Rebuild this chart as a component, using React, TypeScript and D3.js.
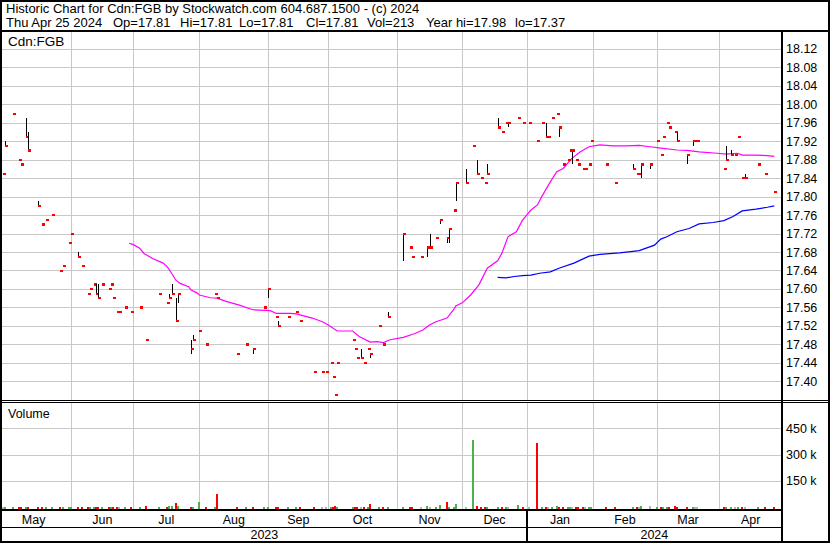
import React from 'react';
import * as d3 from 'd3';

// [date, open, high, low, close, volume]
type Bar = [string, number, number, number, number, number];

const bars: Bar[] = [
  ['2023-04-27', 17.85, 17.85, 17.85, 17.85, 3000],
  ['2023-04-28', 17.92, 17.92, 17.91, 17.91, 2000],
  ['2023-05-02', 17.98, 17.98, 17.98, 17.98, 3000],
  ['2023-05-05', 17.88, 17.88, 17.88, 17.88, 2000],
  ['2023-05-06', 17.87, 17.87, 17.87, 17.87, 3000],
  ['2023-05-09', 17.97, 17.97, 17.93, 17.93, 3000],
  ['2023-05-10', 17.94, 17.94, 17.90, 17.90, 2000],
  ['2023-05-15', 17.79, 17.79, 17.78, 17.78, 3000],
  ['2023-05-17', 17.74, 17.74, 17.74, 17.74, 3000],
  ['2023-05-19', 17.75, 17.75, 17.75, 17.75, 2000],
  ['2023-05-22', 17.76, 17.76, 17.76, 17.76, 3000],
  ['2023-05-26', 17.64, 17.64, 17.64, 17.64, 3000],
  ['2023-05-28', 17.65, 17.65, 17.65, 17.65, 2000],
  ['2023-05-31', 17.70, 17.70, 17.70, 17.70, 3000],
  ['2023-06-01', 17.72, 17.72, 17.72, 17.72, 3000],
  ['2023-06-04', 17.68, 17.68, 17.67, 17.67, 3000],
  ['2023-06-06', 17.65, 17.65, 17.65, 17.65, 3000],
  ['2023-06-09', 17.59, 17.59, 17.59, 17.59, 3000],
  ['2023-06-10', 17.60, 17.60, 17.60, 17.60, 2000],
  ['2023-06-12', 17.61, 17.61, 17.61, 17.61, 3000],
  ['2023-06-13', 17.61, 17.61, 17.59, 17.59, 3000],
  ['2023-06-14', 17.61, 17.61, 17.58, 17.58, 3000],
  ['2023-06-16', 17.61, 17.61, 17.61, 17.61, 3000],
  ['2023-06-19', 17.60, 17.60, 17.60, 17.60, 2000],
  ['2023-06-20', 17.61, 17.61, 17.61, 17.61, 3000],
  ['2023-06-21', 17.58, 17.58, 17.58, 17.58, 3000],
  ['2023-06-23', 17.55, 17.55, 17.55, 17.55, 3000],
  ['2023-06-24', 17.55, 17.55, 17.55, 17.55, 2000],
  ['2023-06-27', 17.56, 17.56, 17.56, 17.56, 3000],
  ['2023-06-30', 17.55, 17.55, 17.55, 17.55, 3000],
  ['2023-07-04', 17.56, 17.56, 17.56, 17.56, 2000],
  ['2023-07-07', 17.49, 17.49, 17.49, 17.49, 5000],
  ['2023-07-13', 17.59, 17.59, 17.59, 17.59, 2000],
  ['2023-07-17', 17.57, 17.57, 17.57, 17.57, 3000],
  ['2023-07-18', 17.59, 17.59, 17.58, 17.58, 6000],
  ['2023-07-19', 17.61, 17.61, 17.59, 17.59, 9000],
  ['2023-07-21', 17.58, 17.58, 17.53, 17.53, 26000],
  ['2023-07-22', 17.57, 17.59, 17.57, 17.59, 9000],
  ['2023-07-28', 17.49, 17.49, 17.46, 17.47, 3000],
  ['2023-07-29', 17.50, 17.50, 17.49, 17.49, 3000],
  ['2023-08-01', 17.51, 17.51, 17.51, 17.51, 31000],
  ['2023-08-04', 17.48, 17.48, 17.48, 17.48, 3000],
  ['2023-08-08', 17.59, 17.59, 17.59, 17.59, 3000],
  ['2023-08-09', 17.58, 17.58, 17.58, 17.58, 77000],
  ['2023-08-18', 17.46, 17.46, 17.46, 17.46, 3000],
  ['2023-08-22', 17.48, 17.48, 17.48, 17.48, 3000],
  ['2023-08-25', 17.46, 17.47, 17.46, 17.47, 3000],
  ['2023-08-30', 17.56, 17.56, 17.56, 17.56, 3000],
  ['2023-09-01', 17.58, 17.60, 17.58, 17.60, 3000],
  ['2023-09-05', 17.54, 17.54, 17.54, 17.54, 3000],
  ['2023-09-06', 17.53, 17.53, 17.52, 17.52, 3000],
  ['2023-09-11', 17.54, 17.54, 17.54, 17.54, 2000],
  ['2023-09-15', 17.55, 17.55, 17.55, 17.55, 3000],
  ['2023-09-17', 17.53, 17.53, 17.53, 17.53, 3000],
  ['2023-09-24', 17.42, 17.42, 17.42, 17.42, 3000],
  ['2023-09-28', 17.42, 17.42, 17.42, 17.42, 3000],
  ['2023-09-30', 17.42, 17.42, 17.42, 17.42, 3000],
  ['2023-10-02', 17.44, 17.44, 17.44, 17.44, 3000],
  ['2023-10-03', 17.41, 17.41, 17.41, 17.41, 3000],
  ['2023-10-04', 17.37, 17.37, 17.37, 17.37, 8000],
  ['2023-10-05', 17.44, 17.44, 17.44, 17.44, 3000],
  ['2023-10-12', 17.49, 17.49, 17.49, 17.49, 3000],
  ['2023-10-13', 17.47, 17.47, 17.47, 17.47, 3000],
  ['2023-10-14', 17.45, 17.45, 17.45, 17.45, 3000],
  ['2023-10-16', 17.47, 17.47, 17.45, 17.45, 3000],
  ['2023-10-17', 17.44, 17.44, 17.44, 17.44, 3000],
  ['2023-10-19', 17.47, 17.47, 17.47, 17.47, 3000],
  ['2023-10-20', 17.45, 17.46, 17.45, 17.46, 20000],
  ['2023-10-24', 17.52, 17.52, 17.52, 17.52, 3000],
  ['2023-10-26', 17.48, 17.48, 17.48, 17.48, 3000],
  ['2023-10-28', 17.55, 17.55, 17.54, 17.54, 3000],
  ['2023-11-04', 17.66, 17.72, 17.66, 17.72, 3000],
  ['2023-11-07', 17.69, 17.69, 17.69, 17.69, 3000],
  ['2023-11-08', 17.67, 17.67, 17.67, 17.67, 3000],
  ['2023-11-12', 17.67, 17.67, 17.67, 17.67, 3000],
  ['2023-11-15', 17.67, 17.69, 17.67, 17.69, 5000],
  ['2023-11-16', 17.72, 17.72, 17.69, 17.69, 3000],
  ['2023-11-19', 17.71, 17.71, 17.71, 17.71, 3000],
  ['2023-11-21', 17.74, 17.75, 17.74, 17.75, 14000],
  ['2023-11-24', 17.70, 17.71, 17.70, 17.71, 31000],
  ['2023-11-25', 17.70, 17.73, 17.70, 17.73, 3000],
  ['2023-11-27', 17.77, 17.77, 17.77, 17.77, 3000],
  ['2023-11-28', 17.79, 17.83, 17.79, 17.83, 20000],
  ['2023-12-03', 17.86, 17.86, 17.83, 17.83, 3000],
  ['2023-12-06', 17.91, 17.91, 17.91, 17.91, 381000],
  ['2023-12-08', 17.88, 17.88, 17.85, 17.85, 5000],
  ['2023-12-10', 17.84, 17.84, 17.84, 17.84, 3000],
  ['2023-12-12', 17.83, 17.83, 17.83, 17.83, 3000],
  ['2023-12-13', 17.87, 17.87, 17.85, 17.85, 3000],
  ['2023-12-18', 17.97, 17.97, 17.95, 17.95, 3000],
  ['2023-12-20', 17.94, 17.94, 17.94, 17.94, 3000],
  ['2023-12-22', 17.96, 17.96, 17.96, 17.96, 3000],
  ['2023-12-23', 17.95, 17.96, 17.95, 17.96, 3000],
  ['2023-12-28', 17.97, 17.97, 17.97, 17.97, 14000],
  ['2023-12-30', 17.96, 17.96, 17.96, 17.96, 3000],
  ['2024-01-02', 17.96, 17.96, 17.96, 17.96, 3000],
  ['2024-01-06', 17.92, 17.92, 17.92, 17.92, 367000],
  ['2024-01-08', 17.96, 17.96, 17.96, 17.96, 3000],
  ['2024-01-10', 17.96, 17.96, 17.93, 17.93, 3000],
  ['2024-01-11', 17.93, 17.93, 17.93, 17.93, 3000],
  ['2024-01-13', 17.97, 17.97, 17.97, 17.97, 3000],
  ['2024-01-15', 17.98, 17.98, 17.98, 17.98, 8000],
  ['2024-01-16', 17.93, 17.95, 17.93, 17.95, 3000],
  ['2024-01-18', 17.87, 17.87, 17.87, 17.87, 3000],
  ['2024-01-20', 17.88, 17.88, 17.88, 17.88, 3000],
  ['2024-01-21', 17.90, 17.90, 17.90, 17.90, 3000],
  ['2024-01-22', 17.87, 17.90, 17.87, 17.90, 3000],
  ['2024-01-24', 17.88, 17.88, 17.88, 17.88, 3000],
  ['2024-01-25', 17.87, 17.87, 17.87, 17.87, 3000],
  ['2024-01-27', 17.86, 17.86, 17.86, 17.86, 3000],
  ['2024-01-28', 17.86, 17.86, 17.86, 17.86, 3000],
  ['2024-01-30', 17.87, 17.87, 17.87, 17.87, 3000],
  ['2024-01-31', 17.92, 17.92, 17.92, 17.92, 3000],
  ['2024-02-07', 17.87, 17.87, 17.87, 17.87, 3000],
  ['2024-02-11', 17.83, 17.83, 17.83, 17.83, 3000],
  ['2024-02-19', 17.87, 17.87, 17.86, 17.86, 3000],
  ['2024-02-21', 17.85, 17.85, 17.85, 17.85, 3000],
  ['2024-02-22', 17.85, 17.85, 17.85, 17.85, 3000],
  ['2024-02-23', 17.84, 17.87, 17.84, 17.87, 5000],
  ['2024-02-27', 17.86, 17.87, 17.86, 17.87, 8000],
  ['2024-03-01', 17.92, 17.92, 17.92, 17.92, 3000],
  ['2024-03-03', 17.89, 17.89, 17.89, 17.89, 3000],
  ['2024-03-04', 17.93, 17.93, 17.93, 17.93, 3000],
  ['2024-03-06', 17.96, 17.96, 17.96, 17.96, 3000],
  ['2024-03-07', 17.95, 17.95, 17.95, 17.95, 3000],
  ['2024-03-10', 17.94, 17.94, 17.94, 17.94, 8000],
  ['2024-03-11', 17.94, 17.94, 17.92, 17.92, 3000],
  ['2024-03-16', 17.87, 17.89, 17.87, 17.89, 3000],
  ['2024-03-19', 17.91, 17.92, 17.91, 17.92, 3000],
  ['2024-03-20', 17.92, 17.92, 17.92, 17.92, 3000],
  ['2024-03-21', 17.92, 17.92, 17.92, 17.92, 3000],
  ['2024-04-03', 17.86, 17.86, 17.86, 17.86, 3000],
  ['2024-04-04', 17.91, 17.91, 17.88, 17.88, 3000],
  ['2024-04-06', 17.90, 17.90, 17.89, 17.89, 3000],
  ['2024-04-08', 17.89, 17.89, 17.89, 17.89, 3000],
  ['2024-04-09', 17.93, 17.93, 17.93, 17.93, 3000],
  ['2024-04-11', 17.84, 17.84, 17.84, 17.84, 3000],
  ['2024-04-12', 17.85, 17.85, 17.84, 17.84, 3000],
  ['2024-04-18', 17.87, 17.87, 17.87, 17.87, 3000],
  ['2024-04-21', 17.85, 17.85, 17.85, 17.85, 3000],
  ['2024-04-25', 17.81, 17.81, 17.81, 17.81, 213],
];

// short moving average (magenta)
const maShort: [string, number][] = [
  ['2023-06-29', 17.699], ['2023-07-01', 17.696], ['2023-07-04', 17.688], ['2023-07-06', 17.677],
  ['2023-07-10', 17.666], ['2023-07-15', 17.656], ['2023-07-17', 17.648], ['2023-07-19', 17.634],
  ['2023-07-21', 17.619], ['2023-07-23', 17.612], ['2023-07-27', 17.605], ['2023-07-28', 17.598],
  ['2023-07-31', 17.591], ['2023-08-01', 17.587], ['2023-08-06', 17.581], ['2023-08-09', 17.580],
  ['2023-08-13', 17.573], ['2023-08-19', 17.565], ['2023-08-25', 17.555], ['2023-09-02', 17.553],
  ['2023-09-05', 17.547], ['2023-09-12', 17.547], ['2023-09-15', 17.546], ['2023-09-23', 17.537],
  ['2023-09-28', 17.529], ['2023-10-01', 17.522], ['2023-10-05', 17.509], ['2023-10-12', 17.509],
  ['2023-10-15', 17.497], ['2023-10-20', 17.485], ['2023-10-23', 17.486], ['2023-10-26', 17.484],
  ['2023-10-29', 17.490], ['2023-11-04', 17.495], ['2023-11-09', 17.503], ['2023-11-13', 17.511],
  ['2023-11-16', 17.522], ['2023-11-19', 17.529], ['2023-11-24', 17.537], ['2023-11-27', 17.555],
  ['2023-11-28', 17.563], ['2023-12-01', 17.570], ['2023-12-05', 17.587], ['2023-12-09', 17.609],
  ['2023-12-13', 17.645], ['2023-12-18', 17.661], ['2023-12-20', 17.677], ['2023-12-23', 17.713],
  ['2023-12-27', 17.724], ['2023-12-30', 17.749], ['2024-01-03', 17.771], ['2024-01-06', 17.782],
  ['2024-01-08', 17.800], ['2024-01-12', 17.832], ['2024-01-15', 17.854], ['2024-01-18', 17.861],
  ['2024-01-22', 17.883], ['2024-01-26', 17.897], ['2024-01-30', 17.908], ['2024-02-04', 17.912],
  ['2024-02-10', 17.910], ['2024-02-16', 17.910], ['2024-02-22', 17.911], ['2024-02-27', 17.908],
  ['2024-03-03', 17.905], ['2024-03-11', 17.901], ['2024-03-16', 17.900], ['2024-03-22', 17.897],
  ['2024-03-31', 17.894], ['2024-04-04', 17.892], ['2024-04-09', 17.894], ['2024-04-11', 17.890],
  ['2024-04-16', 17.890], ['2024-04-22', 17.889], ['2024-04-25', 17.887],
];

// long moving average (blue)
const maLong: [string, number][] = [
  ['2023-12-18', 17.625], ['2023-12-22', 17.624], ['2023-12-26', 17.627], ['2023-12-30', 17.629],
  ['2024-01-03', 17.630], ['2024-01-07', 17.634], ['2024-01-12', 17.637], ['2024-01-16', 17.645],
  ['2024-01-23', 17.656], ['2024-01-30', 17.671], ['2024-02-04', 17.675], ['2024-02-13', 17.678],
  ['2024-02-22', 17.683], ['2024-02-29', 17.695], ['2024-03-03', 17.708], ['2024-03-06', 17.713],
  ['2024-03-11', 17.724], ['2024-03-17', 17.731], ['2024-03-22', 17.741], ['2024-03-29', 17.744],
  ['2024-04-03', 17.748], ['2024-04-07', 17.757], ['2024-04-11', 17.769], ['2024-04-17', 17.773],
  ['2024-04-22', 17.777], ['2024-04-25', 17.780],
];

const priceTicks = [17.40, 17.44, 17.48, 17.52, 17.56, 17.60, 17.64, 17.68, 17.72, 17.76, 17.80,
  17.84, 17.88, 17.92, 17.96, 18.00, 18.04, 18.08, 18.12];
const volumeTicks = [150000, 300000, 450000];
const volumeTickLabels = ['150 k', '300 k', '450 k'];
const monthBreaks = ['2023-04-27', '2023-06-01', '2023-07-01', '2023-08-01', '2023-09-01', '2023-10-01',
  '2023-11-01', '2023-12-01', '2024-01-01', '2024-02-01', '2024-03-01', '2024-04-01', '2024-04-25'];
const monthLabels = ['May', 'Jun', 'Jul', 'Aug', 'Sep', 'Oct', 'Nov', 'Dec', 'Jan', 'Feb', 'Mar', 'Apr'];
const yearLabels = ['2023', '2024'];
const titleLine = 'Historic Chart for Cdn:FGB by Stockwatch.com 604.687.1500 - (c) 2024';
const quoteFields = ['Thu Apr 25 2024', 'Op=17.81', 'Hi=17.81', 'Lo=17.81', 'Cl=17.81', 'Vol=213', 'Year hi=17.98', 'lo=17.37'];
const symbolLabel = 'Cdn:FGB';

const W = 830;
const H = 543;
const FONT = '"Liberation Sans", Arial, sans-serif';
const GRID = '#c8c8c8';

export default function App() {
  const parse = d3.timeParse('%Y-%m-%d');
  const plotL = 2;
  const plotR = 782;
  const priceTop = 32;
  const priceBottom = 400;
  const volTop = 403;
  const volBottom = 509.5;
  const breakX = [3, 71.3, 133.3, 199.3, 268.3, 328.3, 396.7, 462.3, 526.7, 593.3, 656.7, 719.3, 774.3];
  const quoteX = [6, 113, 180, 239, 306, 367, 426, 515];

  const x = d3.scaleTime<number>().domain(monthBreaks.map((d) => parse(d) as Date)).range(breakX);
  const y = d3.scaleLinear().domain([17.4, 18.0]).range([381.3, 104.3]);
  const yv = d3.scaleLinear().domain([0, 450000]).range([507.3, 428.3]);

  const gridXs = monthBreaks.slice(1, -1).map((d) => x(parse(d) as Date));
  const bounds = [plotL - 6, ...gridXs, plotR];
  const yearX = x(parse('2024-01-01') as Date);

  const line = d3
    .line<[string, number]>()
    .x((d) => x(parse(d[0]) as Date))
    .y((d) => y(d[1]));

  const volColor = (i: number) => {
    if (i === 0) return '#b4b4b4';
    const c = bars[i][4];
    const p = bars[i - 1][4];
    if (c > p) return '#4cb04c';
    if (c < p) return '#ff0000';
    return '#b4b4b4';
  };

  return (
    <svg
      width={W}
      height={H}
      style={{ position: 'absolute', left: 0, top: 0, display: 'block', background: '#fff' }}
      fontFamily={FONT}
    >
      <rect x={0} y={0} width={W} height={H} fill="#fff" />
      {/* header */}
      <text x={6} y={13} fontSize={13} fill="#000">
        {titleLine}
      </text>
      <text y={27} fontSize={13} fill="#000">
        {quoteFields.map((f, i) => (
          <tspan key={'q' + i} x={quoteX[i]}>{f}</tspan>
        ))}
      </text>

      {/* price grid */}
      <g shapeRendering="crispEdges">
        {priceTicks.map((t) => (
          <line key={'pg' + t} x1={plotL} x2={plotR} y1={Math.round(y(t)) + 0.5} y2={Math.round(y(t)) + 0.5} stroke={GRID} />
        ))}
        {gridXs.map((gx, i) => (
          <line key={'pv' + i} x1={Math.round(gx) + 0.5} x2={Math.round(gx) + 0.5} y1={priceTop} y2={priceBottom} stroke={GRID} />
        ))}
        {/* volume grid */}
        {volumeTicks.map((t) => (
          <line key={'vg' + t} x1={plotL} x2={plotR} y1={Math.round(yv(t)) + 0.5} y2={Math.round(yv(t)) + 0.5} stroke={GRID} />
        ))}
        {gridXs.map((gx, i) => (
          <line key={'vv' + i} x1={Math.round(gx) + 0.5} x2={Math.round(gx) + 0.5} y1={volTop} y2={volBottom} stroke={GRID} />
        ))}
      </g>

      <text x={8} y={46} fontSize={13.5} fill="#000">{symbolLabel}</text>
      <text x={8} y={418} fontSize={12.5} fill="#000">Volume</text>

      {/* moving averages */}
      <path d={line(maShort) || ''} fill="none" stroke="#ff00ff" strokeWidth={1.2} />
      <path d={line(maLong) || ''} fill="none" stroke="#0000ff" strokeWidth={1.2} />

      {/* OHLC bars */}
      <g shapeRendering="crispEdges">
        {bars.map((b, i) => {
          const bx = Math.round(x(parse(b[0]) as Date));
          const yh = y(b[2]);
          const yl = y(b[3]);
          const yc = y(b[4]);
          return (
            <g key={'b' + i}>
              {b[2] !== b[3] && <rect x={bx} y={yh} width={1.3} height={Math.max(1, yl - yh)} fill="#000" />}
              <rect x={bx} y={yc - 1} width={3.4} height={2.2} fill="#ff0000" />
            </g>
          );
        })}
      </g>

      {/* volume bars */}
      <g shapeRendering="crispEdges">
        {bars.map((b, i) => {
          const bx = Math.round(x(parse(b[0]) as Date)) - 1.5;
          const top = Math.min(yv(b[5]), volBottom - 1.5);
          return <rect key={'v' + i} x={bx} y={top} width={2} height={volBottom - top} fill={volColor(i)} />;
        })}
      </g>

      {/* axis labels */}
      {priceTicks.map((t) => (
        <text key={'pl' + t} x={786} y={y(t) + 4.5} fontSize={12.5} fill="#000">
          {t.toFixed(2)}
        </text>
      ))}
      {volumeTicks.map((t, i) => (
        <text key={'vl' + t} x={786} y={yv(t) + 4.5} fontSize={12.5} fill="#000">
          {volumeTickLabels[i]}
        </text>
      ))}
      {monthLabels.map((m, i) => (
        <text key={'m' + m} x={(bounds[i] + bounds[i + 1]) / 2} y={523.5} fontSize={12.5} textAnchor="middle" fill="#000">
          {m}
        </text>
      ))}
      <text x={(plotL + yearX) / 2} y={539} fontSize={12.5} textAnchor="middle" fill="#000">{yearLabels[0]}</text>
      <text x={(yearX + plotR) / 2} y={539} fontSize={12.5} textAnchor="middle" fill="#000">{yearLabels[1]}</text>

      {/* frame lines */}
      <g shapeRendering="crispEdges" fill="#000">
        <rect x={0} y={0} width={W} height={2} />
        <rect x={0} y={H - 2} width={W} height={2} />
        <rect x={0} y={0} width={2} height={H} />
        <rect x={W - 2} y={0} width={2} height={H} />
        <rect x={0} y={30} width={W} height={2} />
        <rect x={781} y={30} width={2} height={H - 30} />
        <rect x={0} y={400} width={W} height={1} />
        <rect x={0} y={402} width={W} height={1} />
        <rect x={0} y={509} width={782} height={2} />
        <rect x={0} y={526.5} width={782} height={1.5} />
        <rect x={Math.round(yearX) - 1} y={509} width={1.5} height={H - 509} />
      </g>
    </svg>
  );
}
